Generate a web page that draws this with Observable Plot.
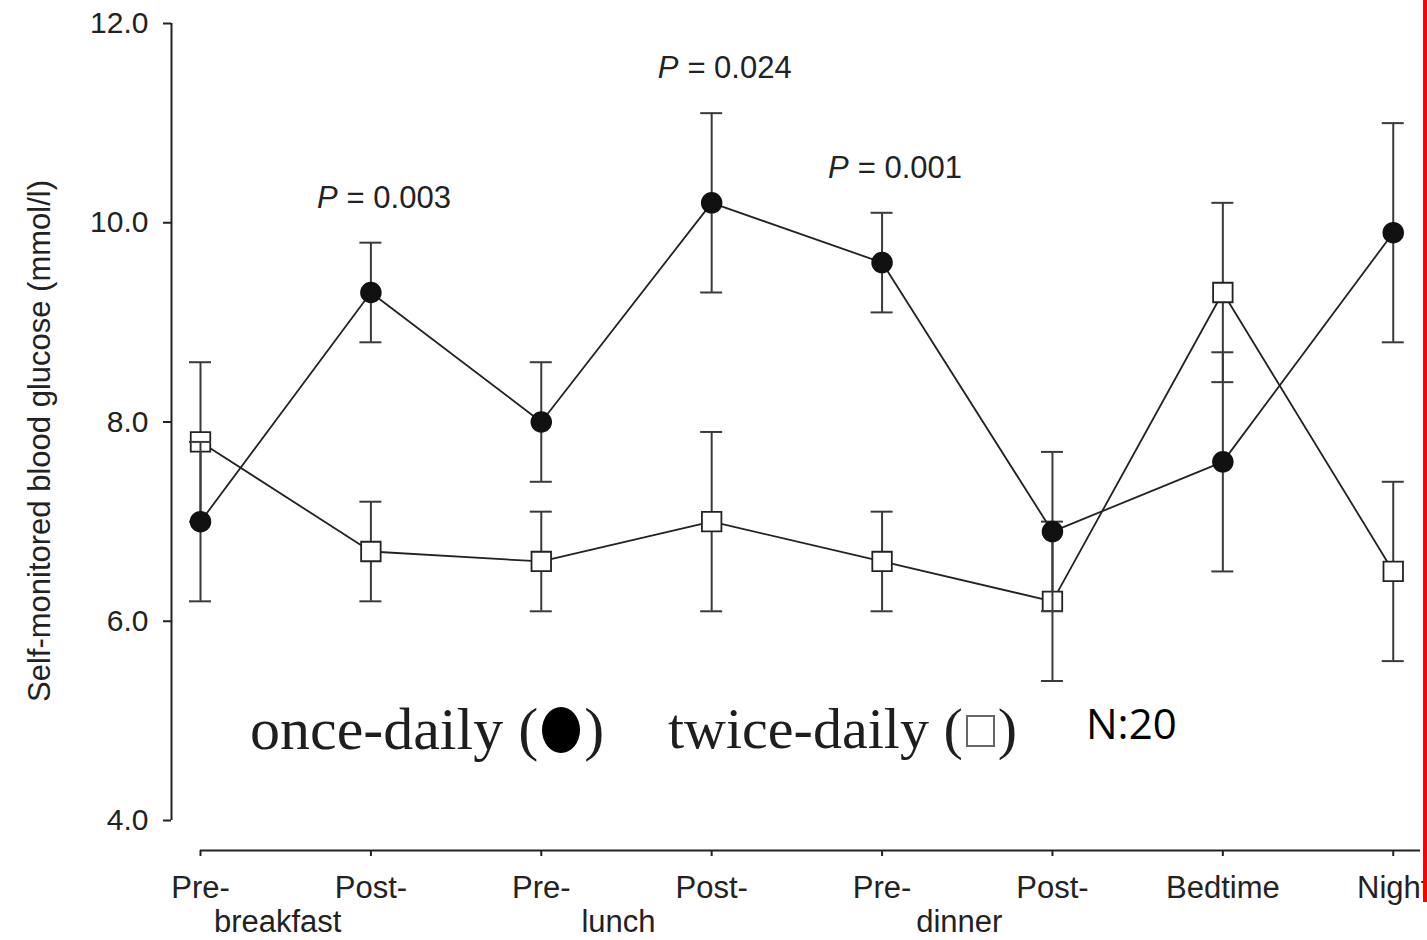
<!DOCTYPE html>
<html>
<head>
<meta charset="utf-8">
<script src="https://cdn.jsdelivr.net/npm/d3@7"></script>
<script src="https://cdn.jsdelivr.net/npm/@observablehq/plot@0.6"></script>
<style>
  html, body { margin: 0; padding: 0; background: #fff; }
  #figure { position: relative; width: 1427px; height: 940px; overflow: hidden; background: #fff; }
  #figure svg { display: block; }
  .legend { position: absolute; top: 699px; font-family: "Liberation Serif", "Times New Roman", serif;
            font-size: 60px; line-height: 1; color: #1e1e1e; white-space: nowrap; }
  #legend-once { left: 250px; }
  #legend-twice { left: 668px; top: 700px; font-size: 58px; }
  .legend .disc { display: inline-block; width: 38px; height: 46px; border-radius: 50%; background: #000;
                  vertical-align: -4px; margin: 0 4px; }
  .legend .box { display: inline-block; width: 25px; height: 28px; border: 2px solid #666; background: #fff;
                 vertical-align: 1px; margin: 0 3px; }
  #count { position: absolute; left: 1086px; top: 702px; font-family: "Open Sans", "Noto Sans", sans-serif;
           font-size: 42px; line-height: 1; color: #000; }
  #edge { position: absolute; left: 1423px; top: 0; width: 5px; height: 902px; background: #ff0000; }
</style>
</head>
<body>
<div id="figure">
  <div id="chart"></div>
  <div class="legend" id="legend-once">once-daily (<span class="disc"></span>)</div>
  <div class="legend" id="legend-twice">twice-daily (<span class="box"></span>)</div>
  <div id="count">N:20</div>
  <div id="edge"></div>
</div>
<script>
// Time points of self-monitored blood glucose
const timepoints = ["Pre-breakfast", "Post-breakfast", "Pre-lunch", "Post-lunch",
                    "Pre-dinner", "Post-dinner", "Bedtime", "Night"];
const tickLabels = ["Pre-", "Post-", "Pre-", "Post-", "Pre-", "Post-", "Bedtime", "Night"];
const mealLabels = ["breakfast", "lunch", "dinner"];

// Mean glucose (mmol/l) and error half-widths per regimen
const onceMean  = [7.0, 9.3, 8.0, 10.2, 9.6, 6.9, 7.6, 9.9];
const onceErr   = [0.8, 0.5, 0.6, 0.9, 0.5, 0.8, 1.1, 1.1];
const twiceMean = [7.8, 6.7, 6.6, 7.0, 6.6, 6.2, 9.3, 6.5];
const twiceErr  = [0.8, 0.5, 0.5, 0.9, 0.5, 0.8, 0.9, 0.9];

// Significance annotations (index into timepoints)
const pTimepoints = [1, 3, 4];
const pValues = ["0.003", "0.024", "0.001"];

const yTicks = [4, 6, 8, 10, 12];
const yTitle = "Self-monitored blood glucose (mmol/l)";

const toRows = (mean, err) => timepoints.map((t, i) => ({
  i, t, mean: mean[i], lo: mean[i] - err[i], hi: mean[i] + err[i]
}));
const once = toRows(onceMean, onceErr);
const twice = toRows(twiceMean, twiceErr);
const pRows = pTimepoints.map((i, k) => ({ i, top: once[i].hi, value: pValues[k] }));
const mealRows = mealLabels.map((label, k) => ({ x: 2 * k + 0.5, label }));

const ink = "#222";
const barInk = "#3a3a3a";

function errorBars(rows) {
  return [
    Plot.ruleX(rows, { x: "i", y1: "lo", y2: "hi", stroke: barInk, strokeWidth: 2 }),
    Plot.ruleY(rows, { y: "lo", x1: "i", x2: "i", insetLeft: -11, insetRight: -11, stroke: barInk, strokeWidth: 2 }),
    Plot.ruleY(rows, { y: "hi", x1: "i", x2: "i", insetLeft: -11, insetRight: -11, stroke: barInk, strokeWidth: 2 })
  ];
}

const chart = Plot.plot({
  width: 1427,
  height: 940,
  marginLeft: 200,
  marginRight: 7,
  marginTop: 23,
  marginBottom: 120,
  x: { domain: [0, 7.16] },
  y: { domain: [4, 12] },
  style: { fontFamily: "'Liberation Sans', Arial, sans-serif", color: ink, background: "#fff" },
  marks: [
    // offset axis lines
    Plot.ruleY([4], { dy: 30, stroke: ink, strokeWidth: 2 }),
    Plot.ruleX([0], { dx: -29, stroke: ink, strokeWidth: 2 }),
    Plot.axisY(yTicks, { tickSize: 8, dx: -29, tickPadding: 15, strokeWidth: 2, fontSize: 30,
                         tickFormat: d => d.toFixed(1), label: null }),
    Plot.axisX(timepoints.map((t, i) => i), { tickSize: 6, dy: 30, tickPadding: 19, strokeWidth: 2, fontSize: 31,
                         tickFormat: i => tickLabels[i], label: null }),
    Plot.text(mealRows, { x: "x", text: "label", frameAnchor: "bottom", lineAnchor: "top", dy: 89,
                          dx: -8, fontSize: 31, fill: ink }),
    Plot.text([yTitle], { frameAnchor: "left", textAnchor: "middle", rotate: -90, dx: -160, dy: 19,
                          fontSize: 31, fill: ink }),

    // twice-daily series
    ...errorBars(twice),
    Plot.line(twice, { x: "i", y: "mean", stroke: ink, strokeWidth: 1.8 }),
    Plot.dot(twice, { x: "i", y: "mean", symbol: "square", r: 11, fill: "#fff", stroke: ink, strokeWidth: 1.8 }),

    // once-daily series
    ...errorBars(once),
    Plot.line(once, { x: "i", y: "mean", stroke: ink, strokeWidth: 1.8 }),
    Plot.dot(once, { x: "i", y: "mean", r: 10, fill: "#111", stroke: "#111" }),

    // P-value annotations above the once-daily error bars
    Plot.text(pRows, { x: "i", y: "top", text: () => "P", fontStyle: "italic", textAnchor: "start",
                       dx: -54, dy: -45, fontSize: 31, fill: ink }),
    Plot.text(pRows, { x: "i", y: "top", text: d => "= " + d.value, textAnchor: "end",
                       dx: 80, dy: -45, fontSize: 31, fill: ink })
  ]
});

document.getElementById("chart").appendChild(chart);
</script>
</body>
</html>
